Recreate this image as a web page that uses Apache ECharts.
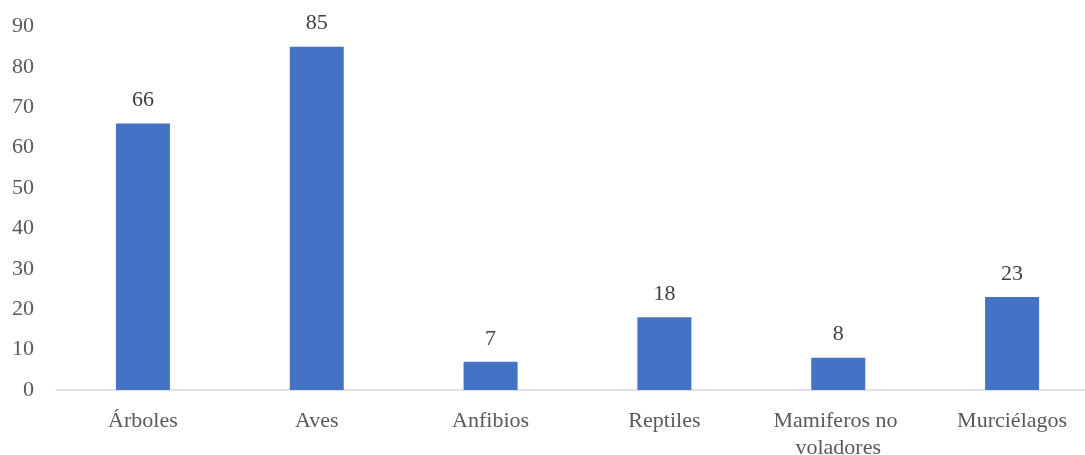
<!DOCTYPE html>
<html>
<head>
<meta charset="utf-8">
<script src="https://cdn.jsdelivr.net/npm/echarts@6/dist/echarts.min.js"></script>
<style>
  html, body { margin: 0; padding: 0; background: #fff; }
  #chart { width: 1085px; height: 455px; }
</style>
</head>
<body>
<div id="chart"></div>
<script>
// Número de especies registradas por grupo
const categories = ['Árboles', 'Aves', 'Anfibios', 'Reptiles', 'Mamiferos no voladores', 'Murciélagos'];
const values = [66, 85, 7, 18, 8, 23];
const yTicks = { min: 0, max: 90, interval: 10 };

const FONT = '"Liberation Serif", "DejaVu Serif", serif';

const chart = echarts.init(document.getElementById('chart'));
chart.setOption({
  animation: false,
  grid: {
    left: 56, top: 26.5, width: 1043, bottom: 65,
    containLabel: false,
    outerBoundsMode: 'none'
  },
  xAxis: {
    type: 'category',
    data: categories,
    axisLine: { show: true, lineStyle: { color: '#d9d9d9', width: 1.5 } },
    axisTick: { show: false },
    axisLabel: {
      interval: 0,
      margin: 18,
      color: '#595959',
      fontFamily: FONT,
      fontSize: 22,
      lineHeight: 27,
      width: 160,
      overflow: 'break'
    }
  },
  yAxis: {
    type: 'value',
    min: yTicks.min,
    max: yTicks.max,
    interval: yTicks.interval,
    splitLine: { show: false },
    axisLine: { show: false },
    axisTick: { show: false },
    axisLabel: {
      margin: 22,
      color: '#595959',
      fontFamily: FONT,
      fontSize: 22
    }
  },
  series: [{
    type: 'bar',
    data: values,
    barWidth: 54,
    itemStyle: { color: '#4472c4' },
    label: {
      show: true,
      position: 'top',
      distance: 12,
      color: '#404040',
      fontFamily: FONT,
      fontSize: 22
    }
  }]
});
</script>
</body>
</html>
